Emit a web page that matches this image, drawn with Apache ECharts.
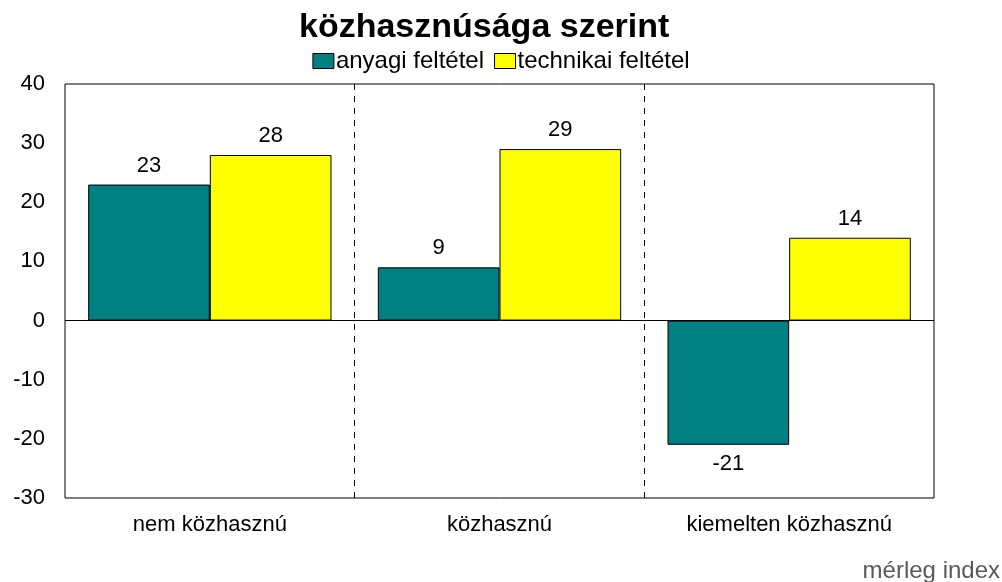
<!DOCTYPE html>
<html>
<head>
<meta charset="utf-8">
<script src="https://cdn.jsdelivr.net/npm/echarts@6/dist/echarts.min.js"></script>
<style>
  html, body { margin: 0; padding: 0; background: #fff; }
  #chart { width: 1002px; height: 582px; }
</style>
</head>
<body>
<div id="chart"></div>
<script>
const categories = ['nem közhasznú', 'közhasznú', 'kiemelten közhasznú'];
const anyagi = [23, 9, -21];
const technikai = [28, 29, 14];
const yTicks = { min: -30, max: 40, interval: 10 };

let myChart = echarts.init(document.getElementById('chart'));
const font = 'Liberation Sans, Arial, sans-serif';

myChart.setOption({
  animation: false,
  textStyle: { fontFamily: font },
  title: {
    text: 'közhasznúsága szerint',
    left: 294,
    top: 6,
    textStyle: { fontSize: 34, fontWeight: 'bold', color: '#000', fontFamily: font }
  },
  legend: {
    top: 44,
    left: 'center',
    icon: 'rect',
    itemWidth: 21,
    itemHeight: 15,
    itemGap: 10,
    itemStyle: { borderColor: '#000', borderWidth: 1 },
    textStyle: { fontSize: 24, color: '#000', padding: [0, 0, 0, -3] },
    data: ['anyagi feltétel', 'technikai feltétel']
  },
  graphic: [{
    type: 'text',
    right: 2,
    top: 559,
    style: { text: 'mérleg index', fill: '#595959', font: '24px ' + font }
  }],
  grid: {
    left: 65,
    right: 68,
    top: 84,
    bottom: 84,
    show: true,
    borderColor: '#000',
    borderWidth: 1
  },
  xAxis: {
    type: 'category',
    data: categories,
    axisLine: { show: false, onZero: false },
    axisTick: { show: false },
    axisLabel: { fontSize: 22, color: '#000', margin: 16 },
    splitLine: {
      show: true,
      showMinLine: false,
      showMaxLine: false,
      lineStyle: { color: '#000', type: [6, 6], width: 1 }
    }
  },
  yAxis: {
    type: 'value',
    min: yTicks.min,
    max: yTicks.max,
    interval: yTicks.interval,
    axisLine: { show: false },
    axisTick: { show: false },
    splitLine: { show: false },
    axisLabel: { fontSize: 22, color: '#000', margin: 20 }
  },
  series: [
    {
      name: 'anyagi feltétel',
      type: 'bar',
      data: anyagi,
      barGap: '0%',
      barCategoryGap: '16%',
      itemStyle: { color: '#008080', borderColor: '#000', borderWidth: 1 },
      label: { show: true, position: 'outside', fontSize: 22, color: '#000', distance: 8 },
      markLine: {
        silent: true,
        symbol: 'none',
        label: { show: false },
        lineStyle: { color: '#000', type: 'solid', width: 1 },
        data: [{ yAxis: 0 }]
      }
    },
    {
      name: 'technikai feltétel',
      type: 'bar',
      data: technikai,
      itemStyle: { color: '#FFFF00', borderColor: '#000', borderWidth: 1 },
      label: { show: true, position: 'top', fontSize: 22, color: '#000', distance: 8 }
    }
  ]
});
</script>
</body>
</html>
